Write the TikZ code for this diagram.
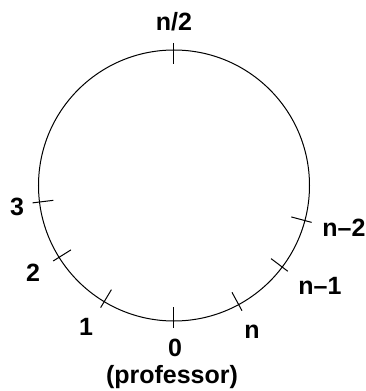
\documentclass[tikz,border=0pt]{standalone}
\usepackage{fontspec}
\setmainfont{Liberation Sans}
\begin{document}
\begin{tikzpicture}[x=1pt, y=1pt, font=\fontsize{25}{29}\selectfont\bfseries]
	\useasboundingbox (-174,-205.5) rectangle (192,185.5);
	\node[circle, draw, line width=1pt, inner sep=0pt, minimum size=271pt] (ring) at (0,0) {};
	% ticks on the ring
	\foreach \a in {90, 187, 212, 239, 270, 298.5, 323, 345}
		\draw[line width=1pt] (\a:142.5) -- (\a:121.5);
	\node (half) at (0,163.5) {n/2};
	\node (three) at (-157,-21.5) {3};
	\node (two) at (-141,-87.5) {2};
	\node (one) at (-88,-141.5) {1};
	\node (zero) at (1,-162.5) {0};
	\node (prof) at (-2,-191.5) {(professor)};
	\node (last) at (78,-146.5) {n};
	\node (lastone) at (146,-100.5) {n--1};
	\node (lasttwo) at (170,-42.5) {n--2};
\end{tikzpicture}
\end{document}
